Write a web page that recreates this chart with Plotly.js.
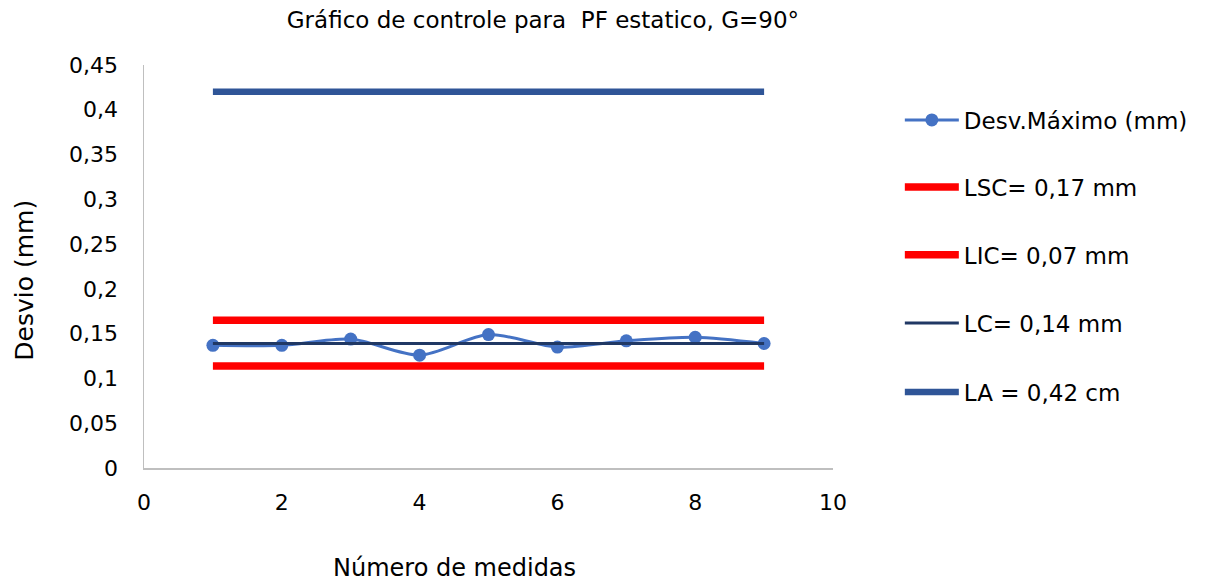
<!DOCTYPE html>
<html>
<head>
<meta charset="utf-8">
<script src="https://cdn.plot.ly/plotly-3.0.1.min.js"></script>
<style>html,body{margin:0;padding:0;background:#fff;}#chart{width:1205px;height:582px;}</style>
</head>
<body>
<div id="chart"></div>
<script>
var medidas = [1, 2, 3, 4, 5, 6, 7, 8, 9];
var desvMaximo = [0.137, 0.137, 0.144, 0.126, 0.149, 0.135, 0.142, 0.146, 0.139];
var lsc = [0.165, 0.165, 0.165, 0.165, 0.165, 0.165, 0.165, 0.165, 0.165];
var lic = [0.114, 0.114, 0.114, 0.114, 0.114, 0.114, 0.114, 0.114, 0.114];
var lc  = [0.139, 0.139, 0.139, 0.139, 0.139, 0.139, 0.139, 0.139, 0.139];
var la  = [0.42, 0.42, 0.42, 0.42, 0.42, 0.42, 0.42, 0.42, 0.42];
var seriesNames = ['Desv.Máximo (mm)', 'LSC= 0,17 mm', 'LIC= 0,07 mm', 'LC= 0,14 mm', 'LA = 0,42 cm'];
var yTickVals = [0, 0.05, 0.1, 0.15, 0.2, 0.25, 0.3, 0.35, 0.4, 0.45];
var yTickText = ['0', '0,05', '0,1', '0,15', '0,2', '0,25', '0,3', '0,35', '0,4', '0,45'];
var xTickVals = [0, 2, 4, 6, 8, 10];
var xTickText = ['0', '2', '4', '6', '8', '10'];

var FONT = 'DejaVu Sans, Liberation Sans, Arial, sans-serif';

var traces = [
  {x: medidas, y: desvMaximo, name: seriesNames[0], type: 'scatter', mode: 'lines+markers',
   line: {color: '#4472C4', width: 3, shape: 'spline', smoothing: 0.8},
   marker: {color: '#4472C4', size: 13}, legend: 'legend'},
  {x: medidas, y: lsc, name: seriesNames[1], type: 'scatter', mode: 'lines',
   line: {color: '#FF0000', width: 7.5}, legend: 'legend2'},
  {x: medidas, y: lic, name: seriesNames[2], type: 'scatter', mode: 'lines',
   line: {color: '#FF0000', width: 7.5}, legend: 'legend3'},
  {x: medidas, y: la, name: seriesNames[4], type: 'scatter', mode: 'lines',
   line: {color: '#2F5597', width: 6.5}, legend: 'legend5'},
  {x: medidas, y: lc, name: seriesNames[3], type: 'scatter', mode: 'lines',
   line: {color: '#203864', width: 3}, legend: 'legend4'}
];

function leg(y) {
  return {x: 1.097, xanchor: 'left', y: y, yanchor: 'middle', bgcolor: 'rgba(0,0,0,0)',
          font: {family: FONT, size: 23, color: '#000'}, itemwidth: 54};
}

var layout = {
  width: 1205, height: 582,
  margin: {l: 144, r: 372, t: 65, b: 114},
  paper_bgcolor: '#fff', plot_bgcolor: '#fff',
  separators: ',.',
  showlegend: true,
  hovermode: false,
  font: {family: FONT, size: 22, color: '#000'},
  title: {text: 'Gráfico de controle para  PF estatico, G=90°', font: {family: FONT, size: 23, color: '#000'},
          x: 0.579, xref: 'paper', xanchor: 'center', y: 0.965, yanchor: 'middle'},
  xaxis: {range: [0, 10], tickvals: xTickVals, ticktext: xTickText, showgrid: false, zeroline: false,
          showline: true, linecolor: '#BFBFBF', linewidth: 1.5, ticks: '', ticklabelstandoff: 14,
          tickfont: {family: FONT, size: 22, color: '#000'}},
  yaxis: {range: [0, 0.45], tickvals: yTickVals, ticktext: yTickText, showgrid: false, zeroline: false,
          showline: true, linecolor: '#BFBFBF', linewidth: 1.5, ticks: '', ticklabelstandoff: 20,
          tickfont: {family: FONT, size: 22, color: '#000'}},
  legend: leg(0.8635),
  legend2: leg(0.6973),
  legend3: leg(0.529),
  legend4: leg(0.3598),
  legend5: leg(0.1886),
  annotations: [
    {text: 'Número de medidas', xref: 'paper', yref: 'paper', x: 0.451, y: -0.249, xanchor: 'center', yanchor: 'middle',
     showarrow: false, font: {family: FONT, size: 24, color: '#000'}},
    {text: 'Desvio (mm)', xref: 'paper', yref: 'paper', x: -0.174, y: 0.465, xanchor: 'center', yanchor: 'middle',
     textangle: -90, showarrow: false, font: {family: FONT, size: 25, color: '#000'}}
  ]
};

Plotly.newPlot('chart', traces, layout, {displayModeBar: false, staticPlot: true});
</script>
</body>
</html>
